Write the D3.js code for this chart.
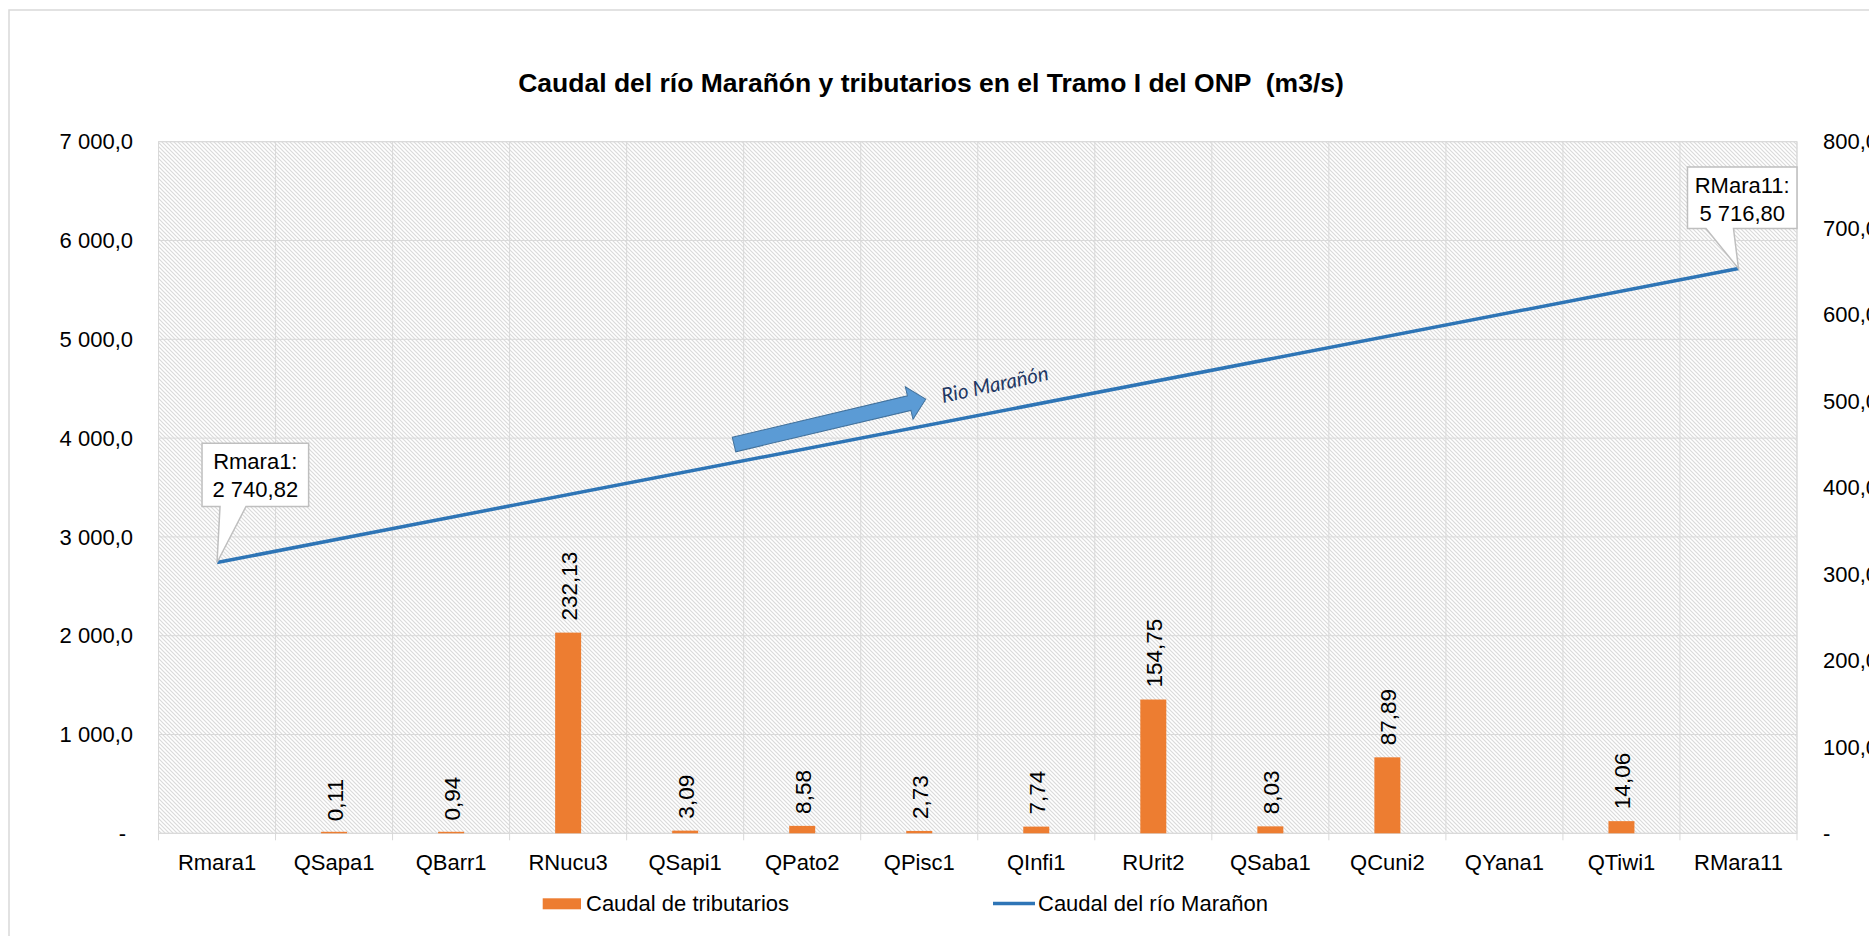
<!DOCTYPE html>
<html>
<head>
<meta charset="utf-8">
<script src="https://cdn.jsdelivr.net/npm/d3@7"></script>
<style>
  html, body { margin: 0; padding: 0; background: #fff; }
  svg { display: block; font-family: "Liberation Sans", Arial, sans-serif; }
  .pre { white-space: pre; }
</style>
</head>
<body>
<svg id="chart" width="1869" height="936"></svg>
<script>
// ---- data ----
const categories = ["Rmara1","QSapa1","QBarr1","RNucu3","QSapi1","QPato2","QPisc1","QInfi1","RUrit2","QSaba1","QCuni2","QYana1","QTiwi1","RMara11"];
const tributaryFlow = [null, 0.11, 0.94, 232.13, 3.09, 8.58, 2.73, 7.74, 154.75, 8.03, 87.89, null, 14.06, null];
const riverFlow = [2740.82, null, null, null, null, null, null, null, null, null, null, null, null, 5716.80];
const leftTicks = [0, 1000, 2000, 3000, 4000, 5000, 6000, 7000];
const rightTicks = [0, 100, 200, 300, 400, 500, 600, 700, 800];
const titleText = "Caudal del río Marañón y tributarios en el Tramo I del ONP  (m3/s)";
const seriesNames = ["Caudal de tributarios", "Caudal del río Marañon"];
const arrowText = "Rio Marañón";

// ---- setup ----
const svg = d3.select("#chart");
const loc = d3.formatLocale({decimal: ",", thousands: " ", grouping: [3], currency: ["", ""]});
const f1 = loc.format(",.1f"), f2 = loc.format(",.2f");
const axisFmt = v => v === 0 ? "-" : f1(v);

const L = 158.5, R = 1797, T = 141.7, B = 833.3;
const x = d3.scaleBand().domain(categories).range([L, R]).padding(0);
const yL = d3.scaleLinear().domain([0, 7000]).range([B, T]);
const yR = d3.scaleLinear().domain([0, 800]).range([B, T]);
const gridC = "#d9d9d9";

const defs = svg.append("defs");
const pat = defs.append("pattern").attr("id", "hatch").attr("patternUnits", "userSpaceOnUse")
  .attr("width", 4).attr("height", 4);
pat.append("rect").attr("width", 4).attr("height", 4).attr("fill", "#fff");
pat.append("path").attr("d", "M-1,-1L5,5M-1,3L1,5M3,-1L5,1")
  .attr("stroke", "#dadada").attr("stroke-width", 1.2);

// outer border
svg.append("rect").attr("x", 9).attr("y", 10).attr("width", 1900).attr("height", 960)
  .attr("fill", "none").attr("stroke", gridC).attr("stroke-width", 1.5);

// title
svg.append("text").attr("class", "pre").attr("x", 931).attr("y", 92).attr("text-anchor", "middle")
  .attr("font-weight", "bold").attr("font-size", 26.5).attr("fill", "#000").text(titleText);

// plot area
svg.append("rect").attr("x", L).attr("y", T).attr("width", R - L).attr("height", B - T)
  .attr("fill", "url(#hatch)").attr("stroke", gridC);

// horizontal grid
svg.append("g").selectAll("line").data(leftTicks).join("line")
  .attr("x1", L).attr("x2", R).attr("y1", d => yL(d)).attr("y2", d => yL(d))
  .attr("stroke", gridC).attr("stroke-width", 1);

// vertical grid + ticks at band boundaries
const bounds = categories.map(c => x(c)).concat([R]);
svg.append("g").selectAll("line").data(bounds).join("line")
  .attr("x1", d => d).attr("x2", d => d).attr("y1", T).attr("y2", B + 7)
  .attr("stroke", gridC).attr("stroke-width", 1);

// left axis labels
svg.append("g").selectAll("text").data(leftTicks).join("text")
  .attr("x", d => d === 0 ? 126 : 133).attr("y", d => yL(d)).attr("dy", "0.35em")
  .attr("text-anchor", "end").attr("font-size", 22).attr("fill", "#000").text(axisFmt);

// right axis labels
svg.append("g").selectAll("text").data(rightTicks).join("text")
  .attr("x", 1823).attr("y", d => yR(d)).attr("dy", "0.35em")
  .attr("text-anchor", "start").attr("font-size", 22).attr("fill", "#000").text(axisFmt);

// category labels
svg.append("g").selectAll("text").data(categories).join("text")
  .attr("x", d => x(d) + x.bandwidth() / 2).attr("y", 870)
  .attr("text-anchor", "middle").attr("font-size", 22).attr("fill", "#000").text(d => d);

// bars
const barData = categories.map((c, i) => ({c, v: tributaryFlow[i]})).filter(d => d.v != null);
const bw = x.bandwidth() * 0.222;
svg.append("g").selectAll("rect").data(barData).join("rect")
  .attr("x", d => x(d.c) + x.bandwidth() / 2 - bw / 2)
  .attr("y", d => Math.min(yR(d.v), B - 1.5))
  .attr("width", bw)
  .attr("height", d => Math.max(B - yR(d.v), 1.5))
  .attr("fill", "#ed7d31");

// bar labels (rotated)
svg.append("g").selectAll("text").data(barData).join("text")
  .attr("transform", d => `translate(${x(d.c) + x.bandwidth() / 2 + 1},${yR(d.v) - 12}) rotate(-90)`)
  .attr("dy", "0.35em").attr("text-anchor", "start").attr("font-size", 22.5).attr("fill", "#000")
  .text(d => f2(d.v));

// river line (connects the available points)
const lineData = categories.map((c, i) => ({c, v: riverFlow[i]})).filter(d => d.v != null);
const line = d3.line().x(d => x(d.c) + x.bandwidth() / 2).y(d => yL(d.v));
svg.append("path").datum(lineData).attr("d", line)
  .attr("fill", "none").attr("stroke", "#2e75b6").attr("stroke-width", 3.5);

// block arrow + annotation
const ax = 734, ay = 444.5, ang = -13.3, len = 197, hl = 17, sw = 7.5, hw = 16.7;
svg.append("path")
  .attr("transform", `translate(${ax},${ay}) rotate(${ang})`)
  .attr("d", `M0,${-sw}L${len - hl},${-sw}L${len - hl},${-hw}L${len},0L${len - hl},${hw}L${len - hl},${sw}L0,${sw}Z`)
  .attr("fill", "#5b9bd5").attr("stroke", "#41719c").attr("stroke-width", 1);
svg.append("text").attr("transform", "translate(943,403) rotate(-12.3)")
  .attr("font-family", "Lato, 'Open Sans', sans-serif").attr("font-style", "italic")
  .attr("font-size", 20.5).attr("fill", "#1f3864").text(arrowText);

// callouts
function callout(px, py, bx0, by0, bw0, bh0, w1, w2, lines) {
  const bx1 = bx0 + bw0, by1 = by0 + bh0;
  const d = `M${bx0},${by0}L${bx1},${by0}L${bx1},${by1}L${w2},${by1}L${px},${py}L${w1},${by1}L${bx0},${by1}Z`;
  svg.append("path").attr("d", d).attr("fill", "#fff").attr("stroke", "#bfbfbf").attr("stroke-width", 1.5);
  lines.forEach((t, k) => {
    svg.append("text").attr("x", bx0 + bw0 / 2).attr("y", by0 + 26 + k * 27.7)
      .attr("text-anchor", "middle").attr("font-size", 22).attr("fill", "#000").text(t);
  });
}
const p0x = x(categories[0]) + x.bandwidth() / 2, p0y = yL(riverFlow[0]);
callout(p0x, p0y, p0x - 15, p0y - 119.3, 106.6, 63.3, p0x + 3, p0x + 29,
  [categories[0] + ":", f2(riverFlow[0])]);
const n = categories.length - 1;
const p1x = x(categories[n]) + x.bandwidth() / 2, p1y = yL(riverFlow[n]);
callout(p1x, p1y, p1x - 51, p1y - 101.6, 109.5, 61.6, p1x - 32.5, p1x - 5,
  [categories[n] + ":", f2(riverFlow[n])]);

// legend
svg.append("rect").attr("x", 542.7).attr("y", 898.3).attr("width", 38.3).attr("height", 11).attr("fill", "#ed7d31");
svg.append("text").attr("x", 586).attr("y", 910.7).attr("font-size", 22).attr("fill", "#000").text(seriesNames[0]);
svg.append("line").attr("x1", 993).attr("x2", 1035).attr("y1", 903.5).attr("y2", 903.5)
  .attr("stroke", "#2e75b6").attr("stroke-width", 3.5);
svg.append("text").attr("x", 1038).attr("y", 910.7).attr("font-size", 22).attr("fill", "#000").text(seriesNames[1]);
</script>
</body>
</html>
